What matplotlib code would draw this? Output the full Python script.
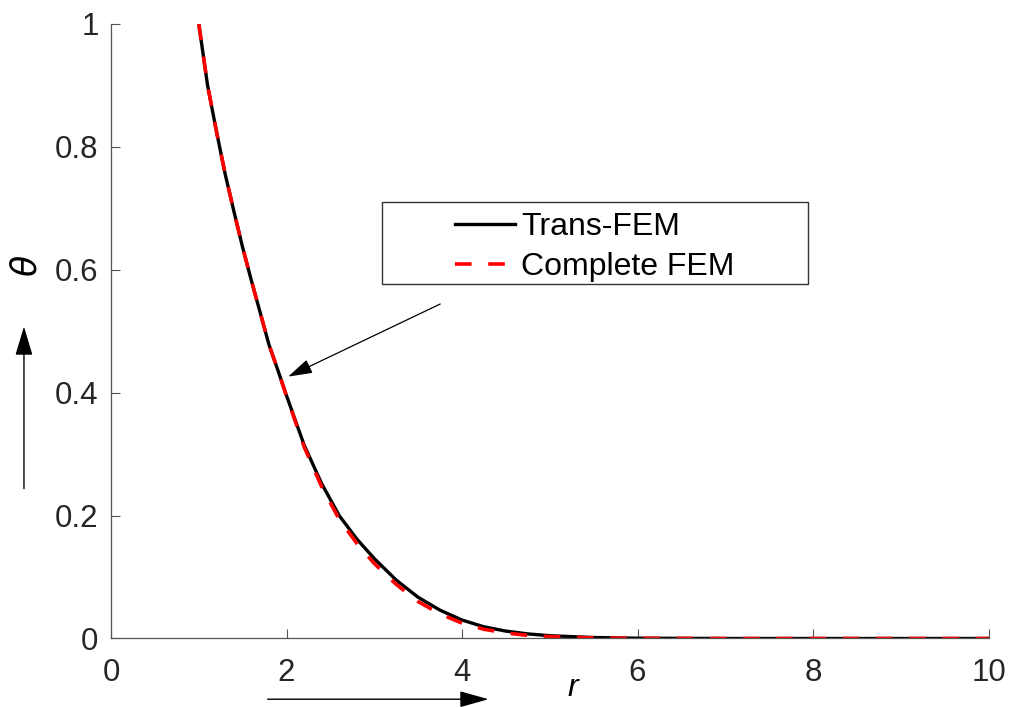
import matplotlib
matplotlib.use("Agg")
import matplotlib.pyplot as plt
from matplotlib.patches import FancyArrowPatch, Rectangle

plt.rcParams["font.family"] = ["Liberation Sans", "DejaVu Sans"]

# radial position and temperature profiles
r = [1.0, 1.1, 1.2, 1.3, 1.4, 1.5, 1.6, 1.7, 1.8, 1.9, 2.0, 2.2, 2.4, 2.6,
     2.8, 3.0, 3.25, 3.5, 3.75, 4.0, 4.25, 4.5, 4.75, 5.0, 5.5, 6.0, 7.0,
     8.0, 9.0, 10.0]
theta_trans = [1.000, 0.900, 0.826, 0.756, 0.695, 0.636, 0.582, 0.530, 0.478,
               0.437, 0.395, 0.315, 0.252, 0.200, 0.162, 0.130, 0.095, 0.067,
               0.046, 0.030, 0.019, 0.012, 0.0075, 0.0045, 0.0016, 0.0005,
               0.0, 0.0, 0.0, 0.0]
theta_full = [1.000, 0.900, 0.826, 0.756, 0.695, 0.636, 0.582, 0.530, 0.478,
              0.437, 0.394, 0.312, 0.247, 0.194, 0.155, 0.122, 0.088, 0.060,
              0.040, 0.025, 0.015, 0.009, 0.005, 0.003, 0.001, 0.0003,
              0.0, 0.0, 0.0, 0.0]

xticks = [0, 2, 4, 6, 8, 10]
yticks = [0, 0.2, 0.4, 0.6, 0.8, 1]
yticklabels = ["0", "0.2", "0.4", "0.6", "0.8", "1"]

fig = plt.figure(figsize=(10.11, 7.07), dpi=100)
ax = fig.add_axes([0.1098, 0.0969, 0.868, 0.8696])

ax.plot(r, theta_trans, color="black", lw=2.4, label="Trans-FEM")
ax.plot(r, theta_full, color="red", lw=2.6, dashes=(4.6, 4.6),
        label="Complete FEM")

ax.set_xlim(0, 10)
ax.set_ylim(0, 1)
ax.set_xticks(xticks)
ax.set_xticklabels([str(v) for v in xticks])
ax.set_yticks(yticks)
ax.set_yticklabels(yticklabels)

for side in ["top", "right"]:
    ax.spines[side].set_visible(False)
for side in ["left", "bottom"]:
    ax.spines[side].set_color("#555555")
    ax.spines[side].set_linewidth(0.9)

ax.tick_params(direction="in", length=6.3, width=0.8, color="#555555",
               labelsize=22.5, labelcolor="#262626")
ax.tick_params(axis="y", pad=9)
ax.tick_params(axis="x", pad=14)

# legend entries, with the box drawn separately
leg = ax.legend(loc="upper left", bbox_to_anchor=(0.3918, 0.694),
                fontsize=23, frameon=False, handlelength=1.87,
                handletextpad=0.21, borderpad=0, labelspacing=0.33,
                borderaxespad=0)
ax.add_patch(Rectangle((0.3087, 0.5759), 0.4852, 0.1343,
                       transform=ax.transAxes, fill=False,
                       edgecolor="#333333", lw=1.0, zorder=5))

# pointer from legend to curve
ax.annotate("", xy=(1.99, 0.424), xytext=(3.78, 0.546),
            arrowprops=dict(arrowstyle="-|>,head_length=1.0,head_width=0.3",
                            color="black", lw=0.9, mutation_scale=15))

# axis labels with direction arrows
fig.text(0.026, 0.625, "θ", fontsize=25, style="italic", rotation=90,
         ha="center", va="center", family=["DejaVu Sans"])
fig.add_artist(FancyArrowPatch((0.0237, 0.305), (0.0237, 0.542),
                               transform=fig.transFigure,
                               arrowstyle="-|>,head_length=1.0,head_width=0.3",
                               mutation_scale=18, color="black", lw=1.0))
fig.text(0.567, 0.027, "r", fontsize=23, style="italic",
         ha="center", va="center")
fig.add_artist(FancyArrowPatch((0.262, 0.011), (0.486, 0.011),
                               transform=fig.transFigure,
                               arrowstyle="-|>,head_length=1.0,head_width=0.28",
                               mutation_scale=18, color="black", lw=1.0))

fig.savefig("out.png", dpi=100)
